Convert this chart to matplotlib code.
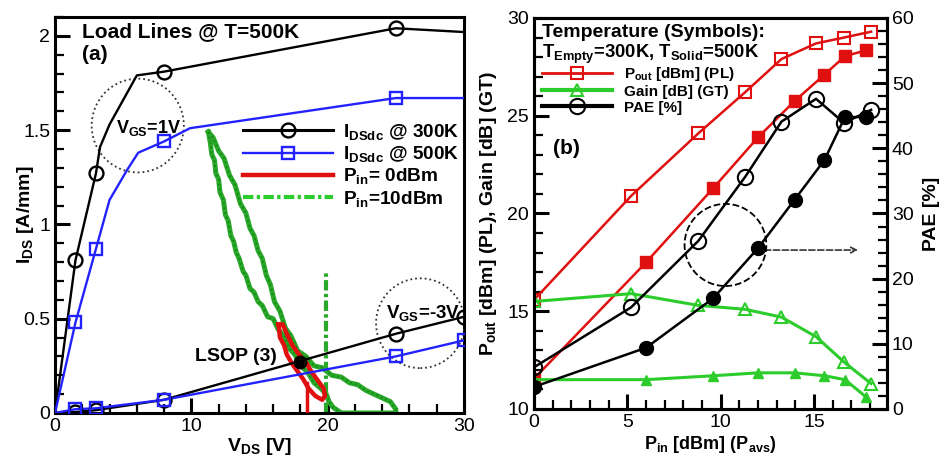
import matplotlib
matplotlib.use('Agg')
import matplotlib.pyplot as plt
from matplotlib.lines import Line2D
from matplotlib.patches import Ellipse
from matplotlib.ticker import MultipleLocator, FormatStrFormatter

plt.rcParams['font.family'] = ['Liberation Sans', 'DejaVu Sans']
plt.rcParams['mathtext.fontset'] = 'custom'
plt.rcParams['mathtext.rm'] = 'Liberation Sans:bold'
plt.rcParams['mathtext.bf'] = 'Liberation Sans:bold'
plt.rcParams['mathtext.it'] = 'Liberation Sans:bold'
plt.rcParams['mathtext.default'] = 'bf'

# ---- panel (a): DC I-V curves and load lines ----
vds_on = [0, 1.5, 3, 3.3, 4.0, 6.0, 8.0, 25.0, 30.0]
ids_on_300 = [0, 0.81, 1.27, 1.41, 1.53, 1.79, 1.81, 2.04, 2.02]
vds_on_m = [1.5, 3, 8, 25]
ids_on_300_m = [0.81, 1.27, 1.81, 2.04]

vds_on_b = [0, 1.5, 3, 4.0, 5.3, 6.1, 8.0, 9.9, 25.0, 30.0]
ids_on_500 = [0, 0.48, 0.87, 1.13, 1.29, 1.38, 1.44, 1.51, 1.67, 1.67]
ids_on_500_m = [0.48, 0.87, 1.44, 1.67]

vds_off = [0, 1.5, 3, 8, 25, 30]
ids_off_300 = [0, 0.005, 0.015, 0.07, 0.42, 0.51]
ids_off_500 = [0, 0.02, 0.025, 0.07, 0.30, 0.385]

# Pin = 10 dBm dynamic load line (loop)
ll10_v = [11.25, 11.4, 11.5, 11.7, 11.8, 12.0, 12.1, 12.35, 12.5, 12.7, 12.9, 13.1,
          13.3, 13.5, 13.8, 14.0, 14.3, 14.6, 14.9, 15.2, 15.6, 16.0, 16.4, 16.8,
          17.2, 17.6, 18.0, 18.5, 19.0, 19.5, 19.9, 20.1, 20.4, 21.0, 25.0,
          25.0, 24.6, 24.0, 23.4, 22.8, 22.2, 21.6, 21.0, 20.3, 19.6, 19.0, 18.4,
          17.8, 17.3, 16.9, 16.5, 16.1, 15.8, 15.5, 15.2, 14.9, 14.6, 14.3, 14.0,
          13.6, 13.2, 12.8, 12.4, 12.0, 11.6, 11.25]
ll10_i = [1.49, 1.43, 1.37, 1.34, 1.27, 1.24, 1.17, 1.13, 1.05, 1.02, 0.94, 0.91,
          0.85, 0.82, 0.75, 0.73, 0.66, 0.64, 0.59, 0.57, 0.51, 0.50, 0.44, 0.41,
          0.34, 0.31, 0.25, 0.22, 0.16, 0.13, 0.10, 0.06, 0.03, 0.0, 0.0,
          0.02, 0.06, 0.08, 0.10, 0.12, 0.15, 0.16, 0.19, 0.20, 0.24, 0.25, 0.30,
          0.33, 0.41, 0.45, 0.54, 0.59, 0.68, 0.73, 0.82, 0.86, 0.94, 0.98, 1.06,
          1.11, 1.21, 1.26, 1.35, 1.39, 1.46, 1.49]
vline10_v = [19.9, 19.9]
vline10_i = [0.0, 0.74]

# Pin = 0 dBm dynamic load line (small loop)
ll0_v = [16.4, 16.5, 16.8, 17.0, 17.4, 17.8, 18.2, 18.6, 19.1, 19.6, 19.8, 19.7,
         19.3, 18.8, 18.4, 17.9, 17.4, 17.0, 16.7, 16.4]
ll0_i = [0.47, 0.40, 0.36, 0.31, 0.26, 0.22, 0.18, 0.13, 0.09, 0.07, 0.09, 0.13,
         0.17, 0.22, 0.27, 0.31, 0.36, 0.42, 0.47, 0.47]
vline0_v = [18.45, 18.45]
vline0_i = [0.0, 0.16]

lsop_v = [18.0]
lsop_i = [0.27]

# ---- panel (b): power sweep ----
pin_300 = [0, 5.2, 8.8, 11.3, 13.25, 15.1, 16.6, 18.05]
pout_300 = [15.58, 20.9, 24.1, 26.2, 27.9, 28.7, 29.0, 29.3]
gain_300 = [15.5, 15.9, 15.3, 15.1, 14.7, 13.7, 12.4, 11.3]
pae_300 = [6.4, 15.6, 25.8, 35.6, 44.1, 47.6, 43.9, 45.9]

pin_500 = [0, 6.0, 9.6, 12.0, 13.95, 15.55, 16.65, 17.8]
pout_500 = [11.55, 17.5, 21.3, 23.9, 25.75, 27.1, 28.05, 28.35]
gain_500 = [11.5, 11.5, 11.7, 11.85, 11.85, 11.7, 11.5, 10.6]
pae_500 = [3.4, 9.4, 17.0, 24.7, 32.1, 38.2, 44.8, 44.8]

RED = '#e01010'
GREEN = '#2ccc2c'
LGREEN = '#2aa82a'
DGREEN = '#158a15'
BLUE = '#2222ff'
DASHDOT = (0, (2.5, 0.8, 0.8, 0.8))

fig = plt.figure(figsize=(9.44, 4.58), dpi=100)
ax = fig.add_axes([0.0583, 0.0983, 0.4332, 0.8647])
axb = fig.add_axes([0.5657, 0.107, 0.3739, 0.8537])


def style_axis(a, sides):
    for s in a.spines.values():
        s.set_linewidth(2.2)
    a.tick_params(which='both', direction='in', labelsize=14, **sides)
    a.tick_params(which='major', length=11, width=2.2)
    a.tick_params(which='minor', length=6.5, width=1.6)


# panel (a)
ax.plot(ll10_v, ll10_i, color=LGREEN, lw=3.6, zorder=2)
ax.plot(ll10_v, ll10_i, color=DGREEN, lw=1.4, ls=(0, (1, 1.5)), zorder=2)
ax.plot(vline10_v, vline10_i, color=LGREEN, lw=3.0, ls=DASHDOT, zorder=2)
ax.plot(ll0_v, ll0_i, color=RED, lw=3.2, zorder=3)
ax.plot(vline0_v, vline0_i, color=RED, lw=2.5, zorder=3)

ax.plot(vds_on, ids_on_300, color='black', lw=1.7, zorder=4)
ax.plot(vds_on_m, ids_on_300_m, 'o', mfc='none', mec='black', mew=1.7, ms=10, zorder=5)
ax.plot(vds_on_b, ids_on_500, color=BLUE, lw=1.7, zorder=4)
ax.plot(vds_on_m, ids_on_500_m, 's', mfc='none', mec=BLUE, mew=1.7, ms=8, zorder=5)
ax.plot(vds_off, ids_off_300, color='black', lw=1.7, zorder=4)
ax.plot(vds_off[1:], ids_off_300[1:], 'o', mfc='none', mec='black', mew=1.7, ms=10, zorder=5)
ax.plot(vds_off, ids_off_500, color=BLUE, lw=1.7, zorder=4)
ax.plot(vds_off[1:], ids_off_500[1:], 's', mfc='none', mec=BLUE, mew=1.7, ms=8, zorder=5)
ax.plot(lsop_v, lsop_i, 'o', color='black', ms=9, zorder=6)

ax.add_patch(Ellipse((6.07, 1.524), 6.76, 0.497, fill=False, ls=':', lw=1.3, ec='#333333', zorder=3))
ax.add_patch(Ellipse((26.8, 0.476), 6.5, 0.476, fill=False, ls=':', lw=1.3, ec='#333333', zorder=3))

ax.text(0.066, 0.963, 'Load Lines @ T=500K', transform=ax.transAxes, fontsize=15,
        fontweight='bold', va='center', ha='left')
ax.text(0.066, 0.905, '(a)', transform=ax.transAxes, fontsize=15, fontweight='bold',
        va='center', ha='left')
ax.text(4.5, 1.51, r'$V_{GS}$=1V', fontsize=13, fontweight='bold', va='center', ha='left', zorder=7)
ax.text(24.3, 0.53, r'$V_{GS}$=-3V', fontsize=13.5, fontweight='bold', va='center', ha='left', zorder=7)
ax.text(16.3, 0.30, 'LSOP (3)', fontsize=14, fontweight='bold', va='center', ha='right', zorder=7)

handles_a = [
    Line2D([], [], color='black', lw=2.2, marker='o', mfc='none', mec='black', ms=10, mew=1.7),
    Line2D([], [], color=BLUE, lw=1.7, marker='s', mfc='none', mec=BLUE, ms=8, mew=1.7),
    Line2D([], [], color=RED, lw=3.2),
    Line2D([], [], color=GREEN, lw=3.0, ls=DASHDOT),
]
labels_a = [r'$I_{DSdc}$ @ 300K', r'$I_{DSdc}$ @ 500K', r'$P_{in}$= 0dBm', r'$P_{in}$=10dBm']
ax.legend(handles_a, labels_a, loc='upper left', bbox_to_anchor=(0.46, 0.735),
          frameon=False, handlelength=4.7, handletextpad=0.55, borderpad=0,
          borderaxespad=0, labelspacing=0.12, prop={'size': 13.7, 'weight': 'bold'})

ax.set_xlim(0, 30)
ax.set_ylim(0, 2.1)
ax.xaxis.set_major_locator(MultipleLocator(10))
ax.xaxis.set_minor_locator(MultipleLocator(2))
ax.yaxis.set_major_locator(MultipleLocator(0.5))
ax.yaxis.set_minor_locator(MultipleLocator(0.1))
ax.yaxis.set_major_formatter(FormatStrFormatter('%g'))
style_axis(ax, dict(left=True, bottom=True, top=False, right=False))
ax.set_xlabel(r'$V_{DS}$ [V]', fontsize=14, fontweight='bold', labelpad=1)
ax.set_ylabel(r'$I_{DS}$ [A/mm]', fontsize=14, fontweight='bold')
ax.yaxis.set_label_coords(-0.046, 0.5)

# panel (b)
ax2 = axb.twinx()
axb.plot(pin_300, pout_300, color=RED, lw=1.8, marker='s', mfc='none', mec=RED, ms=9, mew=1.5)
axb.plot(pin_500, pout_500, color=RED, lw=1.8, marker='s', mfc=RED, mec=RED, ms=8)
axb.plot(pin_300, gain_300, color=GREEN, lw=2.2, marker='^', mfc='none', mec=GREEN, ms=9, mew=1.5)
axb.plot(pin_500, gain_500, color=GREEN, lw=2.2, marker='^', mfc=GREEN, mec=GREEN, ms=7)
ax2.plot(pin_300, pae_300, color='black', lw=1.8, marker='o', mfc='none', mec='black', ms=11, mew=1.5)
ax2.plot(pin_500, pae_500, color='black', lw=1.8, marker='o', mfc='black', mec='black', ms=10)

axb.add_patch(Ellipse((10.25, 18.39), 4.38, 4.2, fill=False, ls='--', lw=1.3, ec='black', zorder=5))
axb.annotate('', xy=(17.5, 18.13), xytext=(12.2, 18.13),
             arrowprops=dict(arrowstyle='->', ls='--', lw=1.2, color='#333333'))

axb.text(0.023, 0.962, 'Temperature (Symbols):', transform=axb.transAxes, fontsize=14,
         fontweight='bold', va='center', ha='left')
axb.text(0.023, 0.908, r'$T_{Empty}$=300K, $T_{Solid}$=500K', transform=axb.transAxes,
         fontsize=13.3, fontweight='bold', va='center', ha='left')
axb.text(1.0, 23.35, '(b)', fontsize=15, fontweight='bold', va='center', ha='left')

handles_b = [
    Line2D([], [], color=RED, lw=2.0, marker='s', mfc='none', mec=RED, ms=9, mew=1.5),
    Line2D([], [], color=GREEN, lw=3.0, marker='^', mfc='none', mec=GREEN, ms=9, mew=1.5),
    Line2D([], [], color='black', lw=3.0, marker='o', mfc='none', mec='black', ms=11, mew=1.5),
]
labels_b = [r'$P_{out}$ [dBm] (PL)', 'Gain [dB] (GT)', 'PAE [%]']
axb.legend(handles_b, labels_b, loc='upper left', bbox_to_anchor=(0.023, 0.88),
           frameon=False, handlelength=4.6, handletextpad=0.75, borderpad=0,
           borderaxespad=0, labelspacing=0.12, prop={'size': 11, 'weight': 'bold'})

axb.set_xlim(0, 18.9)
axb.set_ylim(10, 30)
ax2.set_ylim(0, 60)
axb.xaxis.set_major_locator(MultipleLocator(5))
axb.xaxis.set_minor_locator(MultipleLocator(1))
axb.yaxis.set_major_locator(MultipleLocator(5))
axb.yaxis.set_minor_locator(MultipleLocator(1))
ax2.yaxis.set_major_locator(MultipleLocator(10))
ax2.yaxis.set_minor_locator(MultipleLocator(2))
style_axis(axb, dict(left=True, bottom=True, top=False, right=False))
style_axis(ax2, dict(left=False, bottom=False, top=False, right=True))
axb.set_xlabel(r'$P_{in}$ [dBm] ($P_{avs}$)', fontsize=13, fontweight='bold', labelpad=2)
axb.set_ylabel(r'$P_{out}$ [dBm] (PL), Gain [dB] (GT)', fontsize=14, fontweight='bold')
axb.yaxis.set_label_coords(-0.1, 0.5)
ax2.set_ylabel('PAE [%]', fontsize=14, fontweight='bold', labelpad=7)

fig.savefig('out.png', dpi=100)
